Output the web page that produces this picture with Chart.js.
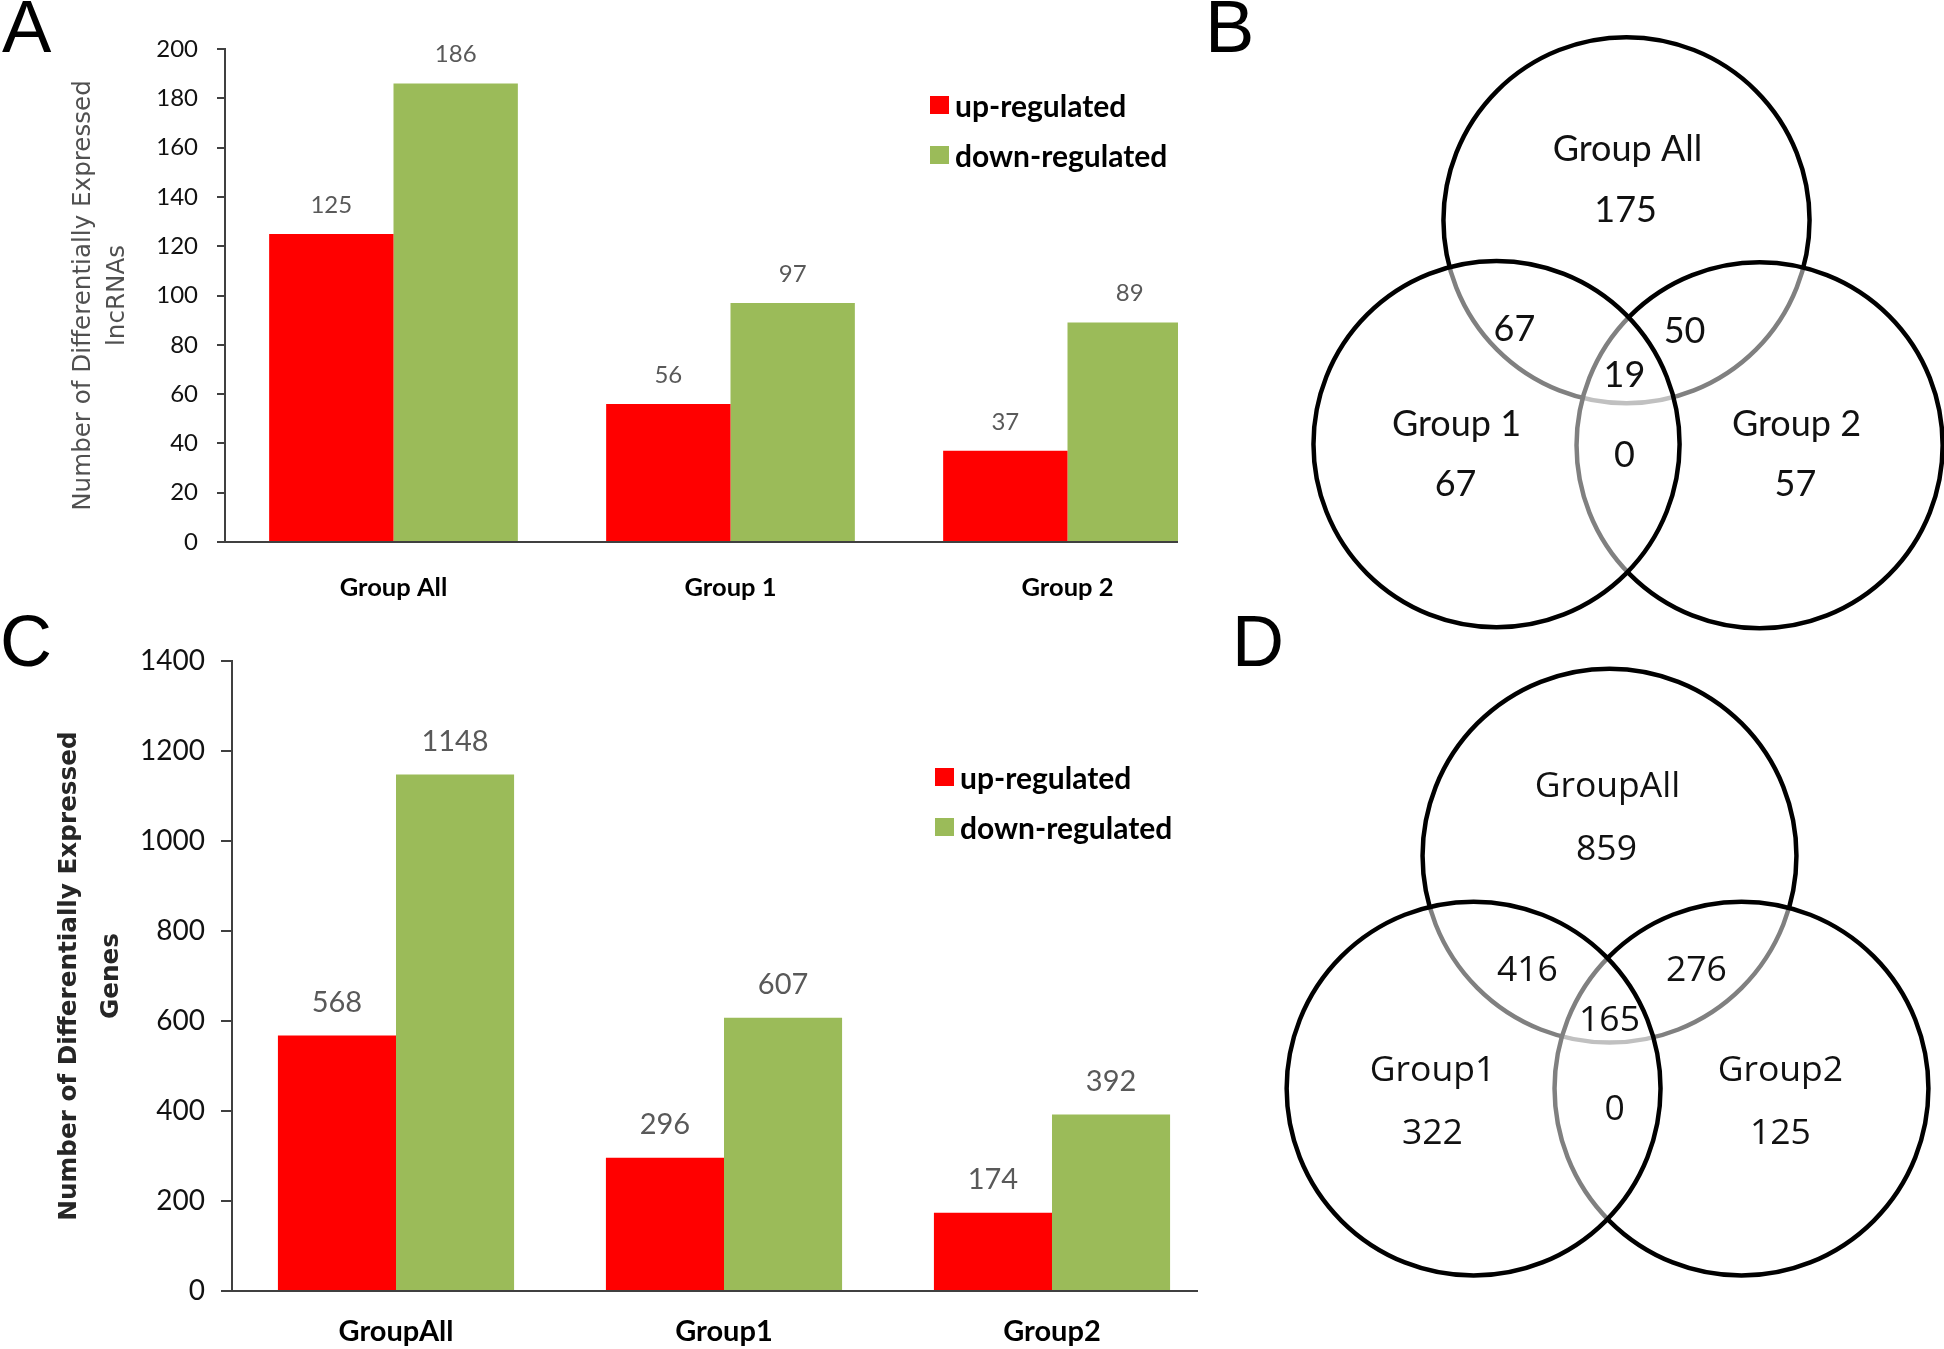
<!DOCTYPE html>
<html>
<head>
<meta charset="utf-8">
<script src="https://cdn.jsdelivr.net/npm/chart.js@4.4.1/dist/chart.umd.min.js"></script>
<style>
  html, body { margin: 0; padding: 0; background: #fff; }
  #pagina { position: relative; width: 1944px; height: 1349px; overflow: hidden; background: #fff; }
  .painel { position: absolute; overflow: hidden; }
  .painel canvas, canvas.venn { position: absolute; left: 0; top: 0; }
  .letra { position: absolute; font-family: 'Liberation Sans', Arial, sans-serif; color: #000; }
  .legenda { position: absolute; font-family: Lato, sans-serif; font-weight: bold; font-size: 30px; color: #000; }
  .legenda div { display: flex; align-items: center; height: 50px; white-space: nowrap; }
  .legenda .caixa { display: inline-block; width: 19px; height: 18px; margin-right: 6px; }
</style>
</head>
<body>
<div id="pagina">
  <div class="painel" style="left:0; top:0; width:1178px; height:620px"><canvas id="graficoA" width="1236" height="620" style="width:1236px;height:620px"></canvas></div>
  <div class="painel" style="left:0; top:620px; width:1198px; height:729px"><canvas id="graficoC" width="1216" height="729" style="width:1216px;height:729px"></canvas></div>
  <!-- folga de 200px em volta da area dos dados (margem dos circulos) -->
  <canvas id="vennB" class="venn" width="1059" height="1022" style="left:1097px; top:-181px; width:1059px; height:1022px"></canvas>
  <canvas id="vennD" class="venn" width="1073" height="1045" style="left:1073px; top:450px; width:1073px; height:1045px"></canvas>
  <div id="legendaA" class="legenda" style="left:930px; top:80px"></div>
  <div id="legendaC" class="legenda" style="left:935px; top:752px"></div>
  <div class="letra" style="left:2px; top:-10px; font-size:74px; line-height:74px">A</div>
  <div class="letra" style="left:1205px; top:-10px; font-size:74px; line-height:74px">B</div>
  <div class="letra" style="left:0px; top:605px; font-size:72px; line-height:72px">C</div>
  <div class="letra" style="left:1232px; top:605px; font-size:72px; line-height:72px">D</div>
</div>
<script>
// painel A: lncRNAs
const categoriasA = ['Group All', 'Group 1', 'Group 2'];
const subiuA = [125, 56, 37];
const desceuA = [186, 97, 89];

// painel C: genes
const categoriasC = ['GroupAll', 'Group1', 'Group2'];
const subiuC = [568, 296, 174];
const desceuC = [1148, 607, 392];

const nomesSeries = ['up-regulated', 'down-regulated'];
const coresSeries = ['#FF0000', '#9BBB59'];

// venn B (lncRNAs) e D (genes): nomes dos grupos e contagens por regiao
const gruposB = ['Group All', 'Group 1', 'Group 2'];
const contagensB = [175, 67, 57, 67, 50, 0, 19]; // so All, so 1, so 2, All∩1, All∩2, 1∩2, todos
const gruposD = ['GroupAll', 'Group1', 'Group2'];
const contagensD = [859, 322, 125, 416, 276, 0, 165];

// geometria dos circulos (raio 1, centro do circulo de cima na origem)
const circulosB = [[0, 0], [0.727, -1.23], [-0.71, -1.224]]; // cima, direita, esquerda
const circulosD = [[0, 0], [0.706, -1.246], [-0.727, -1.246]];
const posNomesB = [[0.005, 0.388], [-0.929, -1.115], [0.929, -1.115]];
const posContagensB = [[-0.005, 0.055], [-0.934, -1.443], [0.923, -1.443], [-0.612, -0.596], [0.317, -0.607], [-0.011, -1.284], [-0.011, -0.847]];
const posNomesD = [[-0.011, 0.369], [-0.947, -1.15], [0.914, -1.15]];
const posContagensD = [[-0.016, 0.032], [-0.947, -1.487], [0.914, -1.487], [-0.439, -0.615], [0.465, -0.615], [0.027, -1.358], [0, -0.882]];

const rotulosBarras = {
  id: 'rotulosBarras',
  afterDatasetsDraw(chart, args, opts) {
    const { ctx } = chart;
    ctx.save();
    ctx.font = opts.fonte;
    ctx.fillStyle = opts.cor;
    ctx.textAlign = 'center';
    ctx.textBaseline = 'middle';
    chart.data.datasets.forEach((ds, i) => {
      chart.getDatasetMeta(i).data.forEach((barra, j) => {
        ctx.fillText(ds.data[j], barra.x, barra.y - opts.distancia);
      });
    });
    ctx.restore();
  }
};

function montarBarras(id, cfg) {
  return new Chart(document.getElementById(id), {
    type: 'bar',
    data: {
      labels: cfg.categorias,
      datasets: [
        { label: nomesSeries[0], data: cfg.subiu, backgroundColor: coresSeries[0] },
        { label: nomesSeries[1], data: cfg.desceu, backgroundColor: coresSeries[1] }
      ]
    },
    options: {
      responsive: false,
      animation: false,
      events: [],
      devicePixelRatio: 1,
      datasets: { bar: { categoryPercentage: cfg.largura, barPercentage: 1 } },
      layout: { padding: { top: cfg.topo, left: 0, right: 0, bottom: 0 } },
      plugins: {
        legend: { display: false },
        tooltip: { enabled: false },
        rotulosBarras: { fonte: cfg.fonteValor, cor: '#595959', distancia: cfg.distancia }
      },
      scales: {
        x: {
          grid: { display: false, drawTicks: false },
          border: { color: '#404040', width: 2 },
          ticks: { color: '#000', font: { family: 'Lato', weight: 'bold', size: cfg.tamX }, padding: cfg.padX },
          afterFit: (s) => { s.height = cfg.alturaX; }
        },
        y: {
          min: 0,
          max: cfg.maximo,
          ticks: {
            stepSize: cfg.passo,
            color: '#111',
            font: { family: 'Lato', size: cfg.tamY },
            padding: cfg.padY,
            callback: (valor) => String(valor)
          },
          grid: { drawOnChartArea: false, tickLength: cfg.tick, color: '#404040', lineWidth: 2 },
          border: { color: '#404040', width: 2 },
          title: {
            display: true,
            text: cfg.titulo,
            color: cfg.corTitulo,
            font: { family: 'DejaVu Sans', size: cfg.tamTitulo, weight: cfg.pesoTitulo, lineHeight: cfg.linhaTitulo },
            padding: { top: cfg.padTitulo, bottom: 0 }
          },
          afterFit: (s) => { s.width = cfg.larguraY; }
        }
      }
    },
    plugins: [rotulosBarras]
  });
}

function montarLegenda(idDiv, grafico) {
  document.getElementById(idDiv).innerHTML = grafico.data.datasets
    .map((ds) => `<div><span class="caixa" style="background:${ds.backgroundColor}"></span>${ds.label}</div>`)
    .join('');
}

function textosVenn(itens, fonte) {
  return {
    id: 'textosVenn',
    afterDatasetsDraw(chart) {
      const { ctx, scales: { x, y } } = chart;
      ctx.save();
      ctx.font = fonte;
      ctx.fillStyle = '#111';
      ctx.textAlign = 'center';
      ctx.textBaseline = 'middle';
      itens.forEach((it) => ctx.fillText(it.texto, x.getPixelForValue(it.x), y.getPixelForValue(it.y)));
      ctx.restore();
    }
  };
}

function montarVenn(id, circulos, grupos, contagens, posNomes, posContagens, limitesY, fonte) {
  const itens = [
    ...grupos.map((g, i) => ({ texto: g, x: posNomes[i][0], y: posNomes[i][1] })),
    ...contagens.map((c, i) => ({ texto: String(c), x: posContagens[i][0], y: posContagens[i][1] }))
  ];
  const venn = new Chart(document.getElementById(id), {
    type: 'bubble',
    data: {
      datasets: [{
        data: circulos.map((c) => ({ x: c[0], y: c[1] })),
        borderColor: '#000',
        borderWidth: 4.5,
        backgroundColor: 'rgba(255,255,255,0.5)',
        clip: false
      }]
    },
    options: {
      responsive: false,
      animation: false,
      events: [],
      devicePixelRatio: 1,
      layout: { padding: 200 },
      plugins: { legend: { display: false }, tooltip: { enabled: false } },
      scales: {
        x: { type: 'linear', display: false, min: -1.8, max: 1.8 },
        y: { type: 'linear', display: false, min: limitesY[0], max: limitesY[1] }
      }
    },
    plugins: [textosVenn(itens, fonte)]
  });
  // raio 1 na escala x, convertido para pixels
  const raio = venn.scales.x.getPixelForValue(1) - venn.scales.x.getPixelForValue(0);
  venn.data.datasets[0].data.forEach((p) => { p.r = raio; });
  venn.update();
  return venn;
}

const graficoA = montarBarras('graficoA', {
  categorias: categoriasA, subiu: subiuA, desceu: desceuA,
  maximo: 200, passo: 20, largura: 0.738, topo: 49,
  alturaX: 78, larguraY: 225, tick: 8, padY: 19, padX: 30.5, tamX: 25.5, tamY: 24,
  fonteValor: '24px Lato', distancia: 29,
  titulo: ['Number of Differentially Expressed', 'lncRNAs'],
  corTitulo: '#505050', tamTitulo: 24.6, pesoTitulo: 'normal', linhaTitulo: 1.4, padTitulo: 66
});

const graficoC = montarBarras('graficoC', {
  categorias: categoriasC, subiu: subiuC, desceu: desceuC,
  maximo: 1400, passo: 200, largura: 0.72, topo: 41,
  alturaX: 58, larguraY: 232, tick: 11, padY: 16, padX: 23, tamX: 29, tamY: 28,
  fonteValor: '29px Lato', distancia: 33,
  titulo: ['Number of Differentially Expressed', 'Genes'],
  corTitulo: '#262626', tamTitulo: 24.7, pesoTitulo: 'bold', linhaTitulo: 1.7, padTitulo: 49
});

montarLegenda('legendaA', graficoA);
montarLegenda('legendaC', graficoC);

montarVenn('vennB', circulosB, gruposB, contagensB, posNomesB, posContagensB, [-2.3, 1.1], '36px Lato');
montarVenn('vennD', circulosD, gruposD, contagensD, posNomesD, posContagensD, [-2.35, 1.1], '35.5px "Open Sans"');
</script>
</body>
</html>
